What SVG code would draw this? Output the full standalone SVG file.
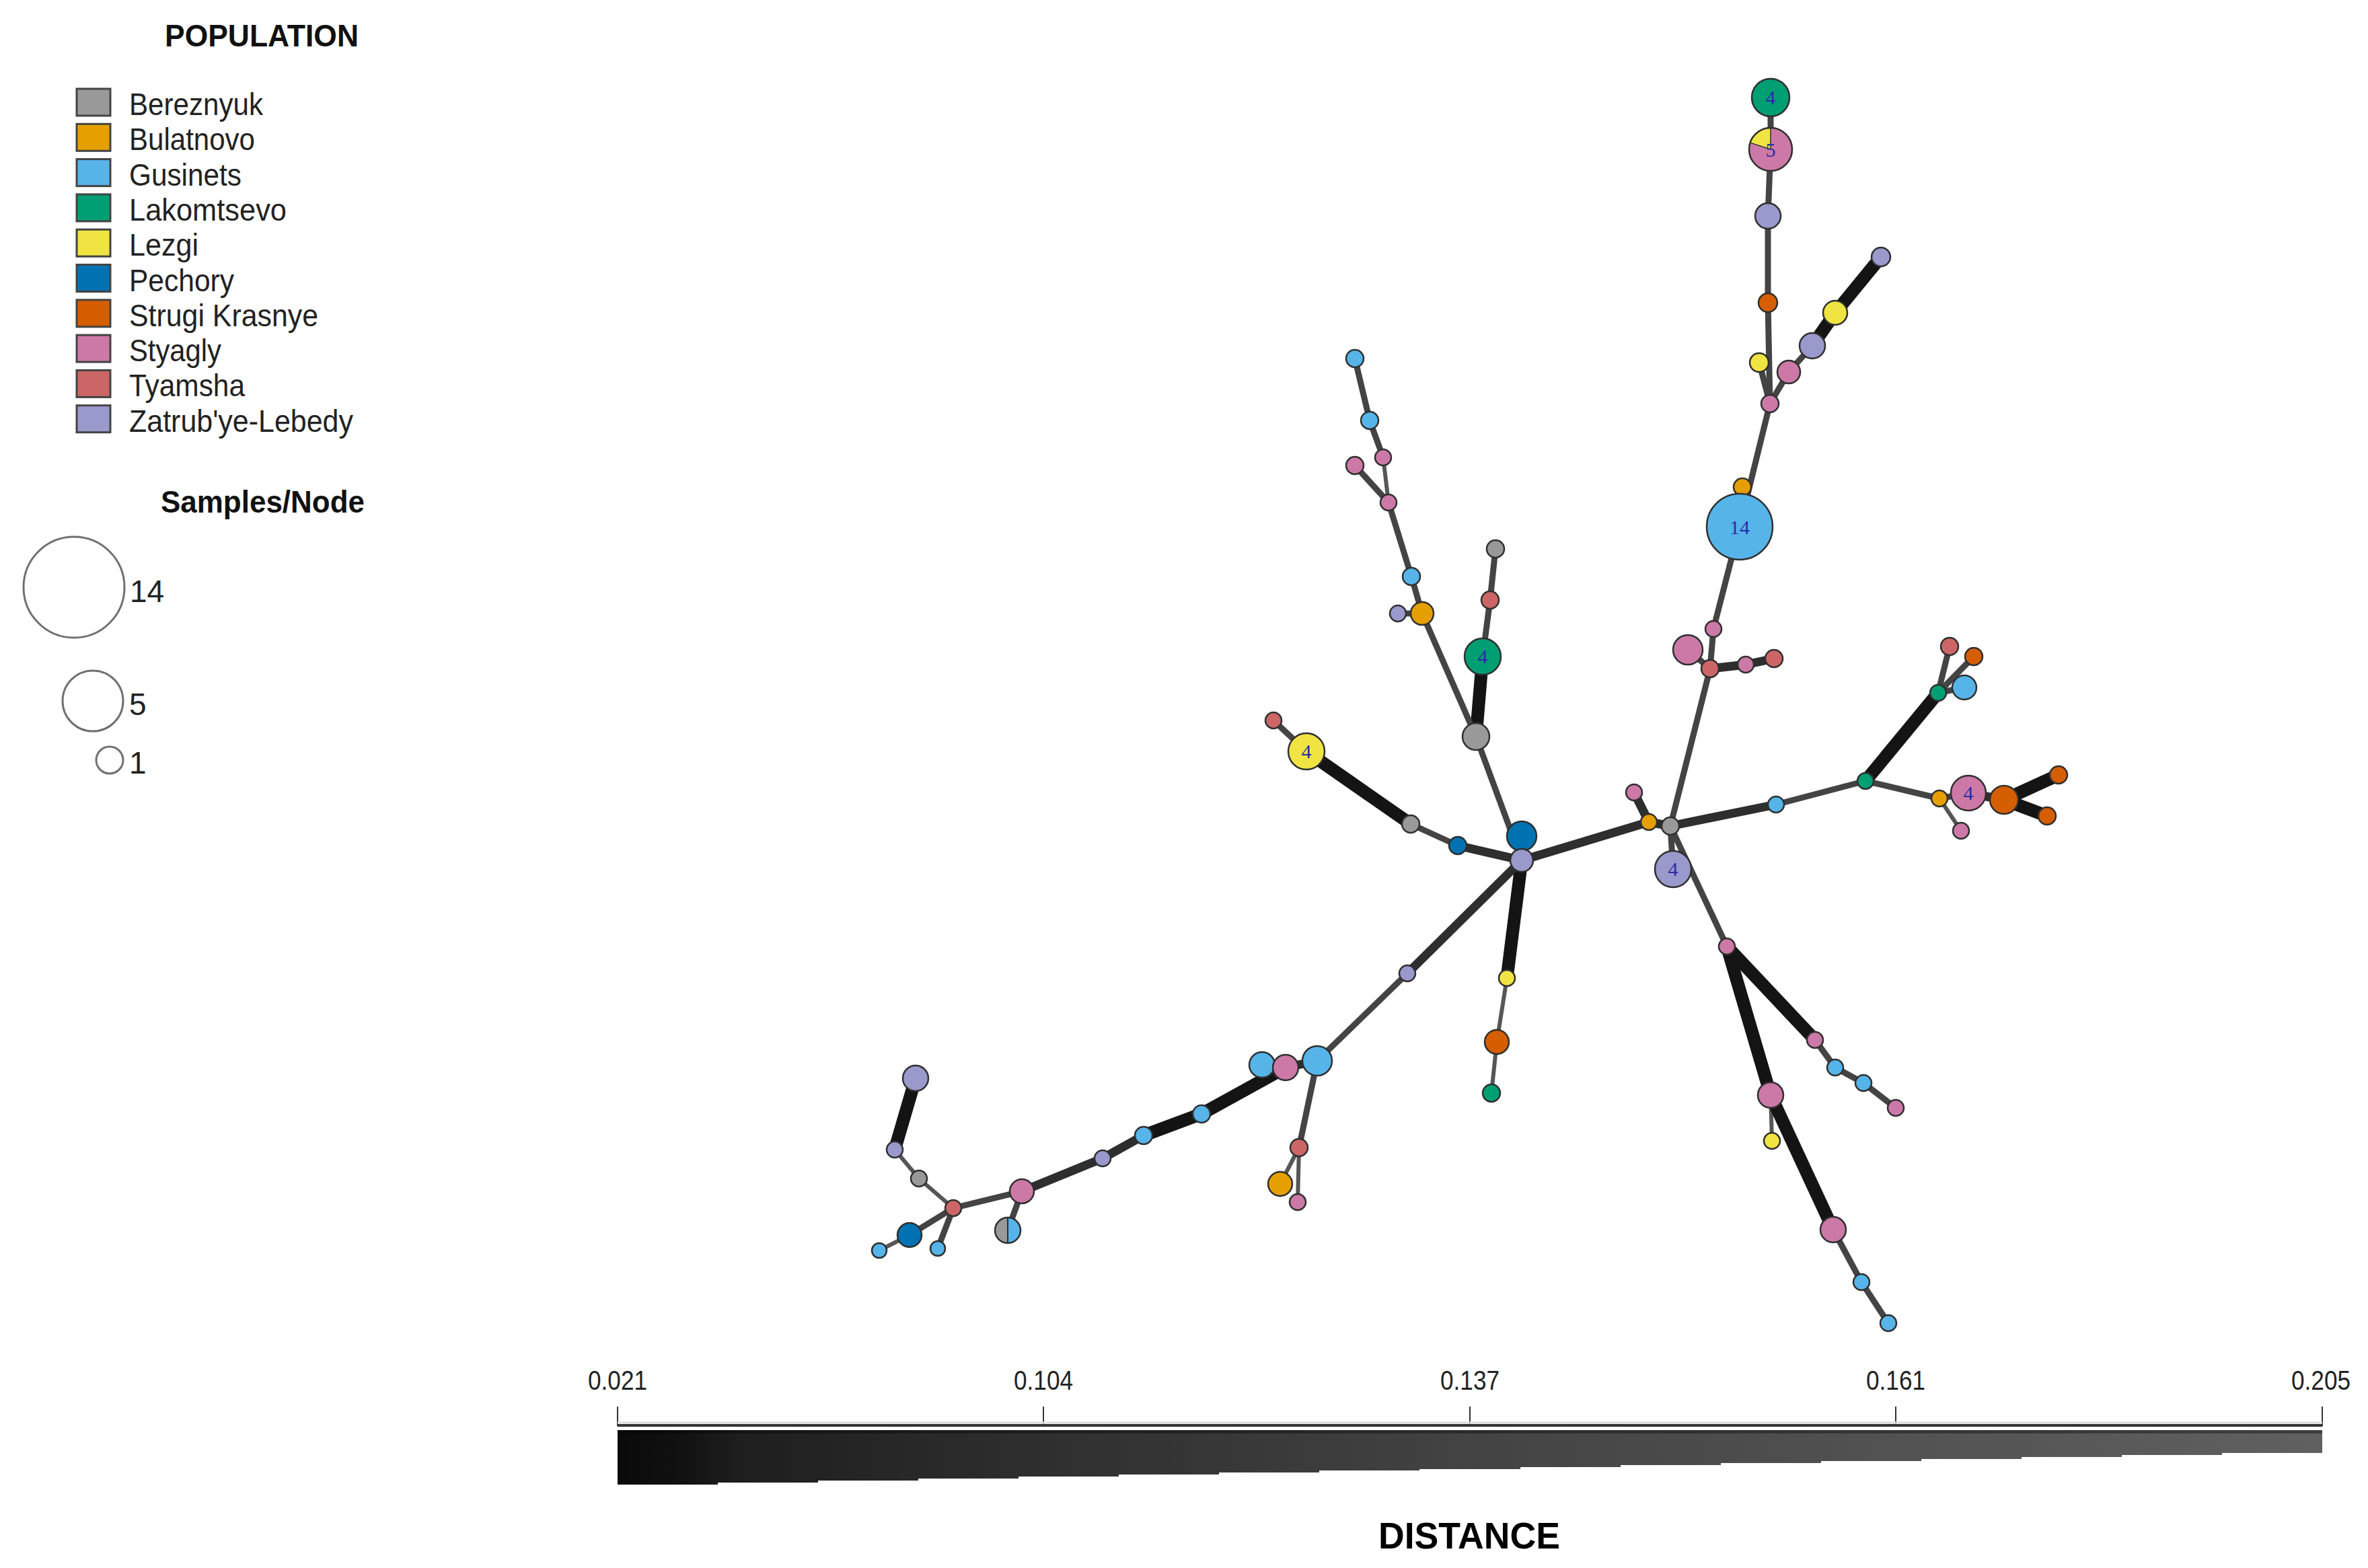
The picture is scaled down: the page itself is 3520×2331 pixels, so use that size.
<svg xmlns="http://www.w3.org/2000/svg" width="3520" height="2331" viewBox="0 0 3520 2331">
<style>
.bg{fill:#ffffff}
.ttl{font-family:"Liberation Sans",Arial,sans-serif;font-weight:bold;font-size:46px;fill:#111}
.lt{font-family:"Liberation Sans",Arial,sans-serif;font-size:46px;fill:#222}
.sq{stroke:#444;stroke-width:3}
.sz{fill:none;stroke:#707070;stroke-width:3}
.tk{font-family:"Liberation Sans",Arial,sans-serif;font-size:40px;fill:#222;text-anchor:middle}
.dist{font-family:"Liberation Sans",Arial,sans-serif;font-weight:bold;font-size:56px;fill:#000;text-anchor:middle}
.eA{stroke:#141414;stroke-width:19;fill:none}
.eB{stroke:#2e2e2e;stroke-width:13;fill:none}
.eC{stroke:#444444;stroke-width:9;fill:none}
.eD{stroke:#565656;stroke-width:6;fill:none}
.nd{stroke:#2f2f2f;stroke-width:2.5}
.BE{fill:#999999}.BU{fill:#E69F00}.GU{fill:#56B4E9}.LA{fill:#009E73}.LE{fill:#F0E442}
.PE{fill:#0072B2}.SK{fill:#D55E00}.ST{fill:#CC79A7}.TY{fill:#CC6666}.ZL{fill:#9999CC}
.lab{font-family:"Liberation Serif","Times New Roman",serif;font-size:30px;fill:#2a2aa8;text-anchor:middle}
</style>
<defs>
<linearGradient id="dg" gradientUnits="userSpaceOnUse" x1="918" y1="0" x2="3452" y2="0">
<stop offset="0" stop-color="#0a0a0a"/>
<stop offset="0.04" stop-color="#121212"/>
<stop offset="0.07" stop-color="#1e1e1e"/>
<stop offset="0.25" stop-color="#2f2f2f"/>
<stop offset="0.5" stop-color="#434343"/>
<stop offset="0.75" stop-color="#525252"/>
<stop offset="1" stop-color="#606060"/>
</linearGradient>
</defs>
<rect class="bg" x="0" y="0" width="3520" height="2331"/>

<g id="legend-population">
<text class="ttl" x="245" y="69" textLength="288" lengthAdjust="spacingAndGlyphs">POPULATION</text>
<rect class="sq BE" x="114" y="132" width="50" height="40"/><text class="lt" x="192" y="171" textLength="199" lengthAdjust="spacingAndGlyphs">Bereznyuk</text>
<rect class="sq BU" x="114" y="184.3" width="50" height="40"/><text class="lt" x="192" y="223.3" textLength="187" lengthAdjust="spacingAndGlyphs">Bulatnovo</text>
<rect class="sq GU" x="114" y="236.6" width="50" height="40"/><text class="lt" x="192" y="275.6" textLength="167" lengthAdjust="spacingAndGlyphs">Gusinets</text>
<rect class="sq LA" x="114" y="288.9" width="50" height="40"/><text class="lt" x="192" y="327.9" textLength="234" lengthAdjust="spacingAndGlyphs">Lakomtsevo</text>
<rect class="sq LE" x="114" y="341.2" width="50" height="40"/><text class="lt" x="192" y="380.2" textLength="103" lengthAdjust="spacingAndGlyphs">Lezgi</text>
<rect class="sq PE" x="114" y="393.5" width="50" height="40"/><text class="lt" x="192" y="432.5" textLength="156" lengthAdjust="spacingAndGlyphs">Pechory</text>
<rect class="sq SK" x="114" y="445.8" width="50" height="40"/><text class="lt" x="192" y="484.8" textLength="281" lengthAdjust="spacingAndGlyphs">Strugi Krasnye</text>
<rect class="sq ST" x="114" y="498.1" width="50" height="40"/><text class="lt" x="192" y="537.1" textLength="137" lengthAdjust="spacingAndGlyphs">Styagly</text>
<rect class="sq TY" x="114" y="550.4" width="50" height="40"/><text class="lt" x="192" y="589.4" textLength="172" lengthAdjust="spacingAndGlyphs">Tyamsha</text>
<rect class="sq ZL" x="114" y="602.7" width="50" height="40"/><text class="lt" x="192" y="641.7" textLength="333" lengthAdjust="spacingAndGlyphs">Zatrub'ye-Lebedy</text>
</g>

<g id="legend-size">
<text class="ttl" x="239" y="762" textLength="303" lengthAdjust="spacingAndGlyphs">Samples/Node</text>
<circle class="sz" cx="110" cy="873" r="75"/><text class="lt" x="193" y="895" font-size="44">14</text>
<circle class="sz" cx="138" cy="1042" r="45"/><text class="lt" x="192" y="1063" font-size="44">5</text>
<circle class="sz" cx="163" cy="1130" r="20"/><text class="lt" x="192" y="1150" font-size="44">1</text>
</g>

<g id="scale-bar">
<text class="tk" x="918" y="2066" textLength="88" lengthAdjust="spacingAndGlyphs">0.021</text>
<text class="tk" x="1551" y="2066" textLength="88" lengthAdjust="spacingAndGlyphs">0.104</text>
<text class="tk" x="2185" y="2066" textLength="88" lengthAdjust="spacingAndGlyphs">0.137</text>
<text class="tk" x="2818" y="2066" textLength="88" lengthAdjust="spacingAndGlyphs">0.161</text>
<text class="tk" x="3450" y="2066" textLength="88" lengthAdjust="spacingAndGlyphs">0.205</text>
<g stroke="#333" stroke-width="2">
<line x1="918" y1="2091" x2="918" y2="2120"/><line x1="1551" y1="2091" x2="1551" y2="2120"/>
<line x1="2185" y1="2091" x2="2185" y2="2120"/><line x1="2818" y1="2091" x2="2818" y2="2120"/>
<line x1="3452" y1="2091" x2="3452" y2="2120"/>
</g>
<line x1="918" y1="2115" x2="3452" y2="2115" stroke="#dddddd" stroke-width="3"/>
<line x1="918" y1="2119" x2="3452" y2="2119" stroke="#333" stroke-width="4"/>
<polygon fill="url(#dg)" points="918,2126 3452,2126 3452,2160 3303,2160 3303,2163 3154,2163 3154,2166 3005,2166 3005,2169 2856,2169 2856,2172 2707,2172 2707,2175 2558,2175 2558,2178 2409,2178 2409,2181 2260,2181 2260,2184 2110,2184 2110,2186 1961,2186 1961,2189 1812,2189 1812,2192 1663,2192 1663,2195 1514,2195 1514,2198 1365,2198 1365,2201 1216,2201 1216,2204 1067,2204 1067,2207 918,2207"/>
<rect x="918" y="2126" width="2534" height="5" fill="#000" opacity="0.35"/>
<text class="dist" x="2184" y="2302" textLength="270" lengthAdjust="spacingAndGlyphs">DISTANCE</text>
</g>

<g id="connectors" stroke-linecap="butt">
<line class="eC" x1="2632" y1="145" x2="2632" y2="222"/>
<line class="eC" x1="2632" y1="222" x2="2628" y2="321"/>
<line class="eC" x1="2628" y1="321" x2="2628" y2="450"/>
<line class="eC" x1="2628" y1="450" x2="2631" y2="600"/>
<line class="eC" x1="2615" y1="539" x2="2631" y2="600"/>
<line class="eC" x1="2631" y1="600" x2="2659" y2="553"/>
<line class="eC" x1="2659" y1="553" x2="2694" y2="514"/>
<line class="eA" x1="2694" y1="514" x2="2728" y2="465"/>
<line class="eA" x1="2728" y1="465" x2="2796" y2="382"/>
<line class="eC" x1="2631" y1="600" x2="2586" y2="783"/>
<line class="eC" x1="2590" y1="722" x2="2586" y2="783"/>
<line class="eC" x1="2586" y1="783" x2="2547" y2="935"/>
<line class="eC" x1="2547" y1="935" x2="2542" y2="994"/>
<line class="eC" x1="2542" y1="994" x2="2483" y2="1228"/>
<line class="eC" x1="2509" y1="966" x2="2542" y2="994"/>
<line class="eB" x1="2542" y1="994" x2="2595" y2="988"/>
<line class="eB" x1="2595" y1="988" x2="2637" y2="979"/>
<line class="eB" x1="2483" y1="1228" x2="2640" y2="1196"/>
<line class="eC" x1="2640" y1="1196" x2="2773" y2="1161"/>
<line class="eA" x1="2773" y1="1161" x2="2881" y2="1030"/>
<line class="eC" x1="2881" y1="1030" x2="2898" y2="961"/>
<line class="eC" x1="2881" y1="1030" x2="2934" y2="976"/>
<line class="eC" x1="2881" y1="1030" x2="2920" y2="1022"/>
<line class="eC" x1="2773" y1="1161" x2="2883" y2="1187"/>
<line class="eD" x1="2883" y1="1187" x2="2915" y2="1235"/>
<line class="eC" x1="2883" y1="1187" x2="2926" y2="1179"/>
<line class="eB" x1="2926" y1="1179" x2="2979" y2="1189"/>
<line class="eA" x1="2979" y1="1189" x2="3060" y2="1152"/>
<line class="eA" x1="2979" y1="1189" x2="3043" y2="1213"/>
<line class="eB" x1="2262" y1="1279" x2="2451" y2="1222"/>
<line class="eB" x1="2451" y1="1222" x2="2483" y2="1228"/>
<line class="eB" x1="2429" y1="1178" x2="2451" y2="1222"/>
<line class="eC" x1="2483" y1="1228" x2="2487" y2="1292"/>
<line class="eC" x1="2483" y1="1228" x2="2567" y2="1407"/>
<line class="eA" x1="2567" y1="1407" x2="2698" y2="1546"/>
<line class="eC" x1="2698" y1="1546" x2="2728" y2="1587"/>
<line class="eC" x1="2728" y1="1587" x2="2770" y2="1610"/>
<line class="eC" x1="2770" y1="1610" x2="2818" y2="1647"/>
<line class="eA" x1="2567" y1="1407" x2="2632" y2="1628"/>
<line class="eD" x1="2632" y1="1628" x2="2634" y2="1696"/>
<line class="eA" x1="2632" y1="1628" x2="2725" y2="1828"/>
<line class="eC" x1="2725" y1="1828" x2="2767" y2="1906"/>
<line class="eC" x1="2767" y1="1906" x2="2807" y2="1967"/>
<line class="eB" x1="2262" y1="1279" x2="2262" y2="1243"/>
<line class="eB" x1="2262" y1="1279" x2="2167" y2="1257"/>
<line class="eC" x1="2167" y1="1257" x2="2097" y2="1225"/>
<line class="eA" x1="2097" y1="1225" x2="1942" y2="1117"/>
<line class="eC" x1="1942" y1="1117" x2="1893" y2="1071"/>
<line class="eC" x1="2262" y1="1279" x2="2194" y2="1095"/>
<line class="eA" x1="2194" y1="1095" x2="2204" y2="976"/>
<line class="eC" x1="2204" y1="976" x2="2215" y2="892"/>
<line class="eC" x1="2215" y1="892" x2="2223" y2="816"/>
<line class="eC" x1="2194" y1="1095" x2="2114" y2="912"/>
<line class="eC" x1="2114" y1="912" x2="2078" y2="912"/>
<line class="eC" x1="2114" y1="912" x2="2098" y2="857"/>
<line class="eC" x1="2098" y1="857" x2="2064" y2="747"/>
<line class="eC" x1="2064" y1="747" x2="2014" y2="692"/>
<line class="eD" x1="2064" y1="747" x2="2056" y2="680"/>
<line class="eC" x1="2056" y1="680" x2="2036" y2="625"/>
<line class="eC" x1="2036" y1="625" x2="2014" y2="533"/>
<line class="eA" x1="2262" y1="1279" x2="2240" y2="1454"/>
<line class="eD" x1="2240" y1="1454" x2="2225" y2="1549"/>
<line class="eD" x1="2225" y1="1549" x2="2217" y2="1625"/>
<line class="eB" x1="2262" y1="1279" x2="2092" y2="1447"/>
<line class="eC" x1="2092" y1="1447" x2="1958" y2="1577"/>
<line class="eC" x1="1958" y1="1577" x2="1931" y2="1706"/>
<line class="eD" x1="1931" y1="1706" x2="1903" y2="1760"/>
<line class="eD" x1="1931" y1="1706" x2="1929" y2="1787"/>
<line class="eB" x1="1958" y1="1577" x2="1911" y2="1587"/>
<line class="eC" x1="1911" y1="1587" x2="1876" y2="1583"/>
<line class="eA" x1="1911" y1="1587" x2="1786" y2="1656"/>
<line class="eA" x1="1786" y1="1656" x2="1700" y2="1688"/>
<line class="eB" x1="1700" y1="1688" x2="1639" y2="1722"/>
<line class="eB" x1="1639" y1="1722" x2="1519" y2="1771"/>
<line class="eC" x1="1519" y1="1771" x2="1417" y2="1796"/>
<line class="eD" x1="1417" y1="1796" x2="1366" y2="1752"/>
<line class="eD" x1="1366" y1="1752" x2="1330" y2="1709"/>
<line class="eA" x1="1330" y1="1709" x2="1361" y2="1603"/>
<line class="eC" x1="1417" y1="1796" x2="1352" y2="1836"/>
<line class="eD" x1="1352" y1="1836" x2="1307" y2="1859"/>
<line class="eC" x1="1417" y1="1796" x2="1394" y2="1856"/>
<line class="eC" x1="1519" y1="1771" x2="1498" y2="1829"/>
</g>

<g id="nodes">
<g id="n1"><circle class="nd LA" cx="2632" cy="145" r="28"/><text class="lab" x="2632" y="155">4</text></g>
<g id="n2"><circle class="ST" cx="2632" cy="222" r="32"/><path class="LE" d="M2632,222 L2632,190 A32,32 0 0 0 2601.6,212.1 Z" stroke="#2f2f2f" stroke-width="1.5"/><circle class="nd" cx="2632" cy="222" r="32" fill="none"/><text class="lab" x="2632" y="233">5</text></g>
<g id="n3"><circle class="nd ZL" cx="2628" cy="321" r="19"/></g>
<g id="n4"><circle class="nd SK" cx="2628" cy="450" r="14"/></g>
<g id="n5"><circle class="nd LE" cx="2615" cy="539" r="14"/></g>
<g id="n6"><circle class="nd ST" cx="2631" cy="600" r="13"/></g>
<g id="n7"><circle class="nd ST" cx="2659" cy="553" r="17"/></g>
<g id="n8"><circle class="nd ZL" cx="2694" cy="514" r="19"/></g>
<g id="n9"><circle class="nd LE" cx="2728" cy="465" r="18"/></g>
<g id="n10"><circle class="nd ZL" cx="2796" cy="382" r="14"/></g>
<g id="n11"><circle class="nd BU" cx="2590" cy="724" r="13"/></g>
<g id="n12"><circle class="nd GU" cx="2586" cy="783" r="49"/><text class="lab" x="2586" y="794" font-size="32" fill="#1f3da0">14</text></g>
<g id="n13"><circle class="nd ST" cx="2547" cy="935" r="12"/></g>
<g id="n14"><circle class="nd ST" cx="2509" cy="966" r="22"/></g>
<g id="n15"><circle class="nd TY" cx="2542" cy="994" r="13"/></g>
<g id="n16"><circle class="nd ST" cx="2595" cy="988" r="12"/></g>
<g id="n17"><circle class="nd TY" cx="2637" cy="979" r="13"/></g>
<g id="n18"><circle class="nd BE" cx="2483" cy="1228" r="13"/></g>
<g id="n19"><circle class="nd BU" cx="2451" cy="1222" r="12"/></g>
<g id="n20"><circle class="nd ST" cx="2429" cy="1178" r="12"/></g>
<g id="n21"><circle class="nd ZL" cx="2487" cy="1292" r="27"/><text class="lab" x="2487" y="1302">4</text></g>
<g id="n22"><circle class="nd GU" cx="2640" cy="1196" r="12"/></g>
<g id="n23"><circle class="nd LA" cx="2773" cy="1161" r="12"/></g>
<g id="n24"><circle class="nd LA" cx="2881" cy="1030" r="12"/></g>
<g id="n25"><circle class="nd TY" cx="2898" cy="961" r="13"/></g>
<g id="n26"><circle class="nd SK" cx="2934" cy="976" r="13"/></g>
<g id="n27"><circle class="nd GU" cx="2920" cy="1022" r="18"/></g>
<g id="n28"><circle class="nd BU" cx="2883" cy="1187" r="12"/></g>
<g id="n29"><circle class="nd ST" cx="2926" cy="1179" r="26"/><text class="lab" x="2926" y="1189">4</text></g>
<g id="n30"><circle class="nd SK" cx="2979" cy="1189" r="21"/></g>
<g id="n31"><circle class="nd SK" cx="3060" cy="1152" r="13"/></g>
<g id="n32"><circle class="nd SK" cx="3043" cy="1213" r="13"/></g>
<g id="n33"><circle class="nd ST" cx="2915" cy="1235" r="12"/></g>
<g id="n34"><circle class="nd ST" cx="2567" cy="1407" r="12"/></g>
<g id="n35"><circle class="nd ST" cx="2698" cy="1546" r="12"/></g>
<g id="n36"><circle class="nd GU" cx="2728" cy="1587" r="12"/></g>
<g id="n37"><circle class="nd GU" cx="2770" cy="1610" r="12"/></g>
<g id="n38"><circle class="nd ST" cx="2818" cy="1647" r="12"/></g>
<g id="n39"><circle class="nd ST" cx="2632" cy="1628" r="19"/></g>
<g id="n40"><circle class="nd LE" cx="2634" cy="1696" r="12"/></g>
<g id="n41"><circle class="nd ST" cx="2725" cy="1828" r="19"/></g>
<g id="n42"><circle class="nd GU" cx="2767" cy="1906" r="12"/></g>
<g id="n43"><circle class="nd GU" cx="2807" cy="1967" r="12"/></g>
<g id="n45"><circle class="nd PE" cx="2262" cy="1243" r="22"/></g>
<g id="n44"><circle class="nd ZL" cx="2262" cy="1279" r="17"/></g>
<g id="n46"><circle class="nd PE" cx="2167" cy="1257" r="13"/></g>
<g id="n47"><circle class="nd BE" cx="2097" cy="1225" r="13"/></g>
<g id="n48"><circle class="nd LE" cx="1942" cy="1117" r="27"/><text class="lab" x="1942" y="1127" fill="#6a4fa0">4</text></g>
<g id="n49"><circle class="nd TY" cx="1893" cy="1071" r="12"/></g>
<g id="n50"><circle class="nd BE" cx="2194" cy="1095" r="20"/></g>
<g id="n51"><circle class="nd LA" cx="2204" cy="976" r="27"/><text class="lab" x="2204" y="986">4</text></g>
<g id="n52"><circle class="nd TY" cx="2215" cy="892" r="13"/></g>
<g id="n53"><circle class="nd BE" cx="2223" cy="816" r="13"/></g>
<g id="n54"><circle class="nd BU" cx="2114" cy="912" r="17"/></g>
<g id="n55"><circle class="nd ZL" cx="2078" cy="912" r="12"/></g>
<g id="n56"><circle class="nd GU" cx="2098" cy="857" r="13"/></g>
<g id="n57"><circle class="nd ST" cx="2064" cy="747" r="12"/></g>
<g id="n58"><circle class="nd ST" cx="2014" cy="692" r="13"/></g>
<g id="n59"><circle class="nd ST" cx="2056" cy="680" r="12"/></g>
<g id="n60"><circle class="nd GU" cx="2036" cy="625" r="13"/></g>
<g id="n61"><circle class="nd GU" cx="2014" cy="533" r="13"/></g>
<g id="n62"><circle class="nd LE" cx="2240" cy="1454" r="12"/></g>
<g id="n63"><circle class="nd SK" cx="2225" cy="1549" r="18"/></g>
<g id="n64"><circle class="nd LA" cx="2217" cy="1625" r="13"/></g>
<g id="n65"><circle class="nd ZL" cx="2092" cy="1447" r="12"/></g>
<g id="n68"><circle class="nd GU" cx="1876" cy="1583" r="19"/></g>
<g id="n67"><circle class="nd ST" cx="1911" cy="1587" r="19"/></g>
<g id="n66"><circle class="nd GU" cx="1958" cy="1577" r="22"/></g>
<g id="n69"><circle class="nd TY" cx="1931" cy="1706" r="13"/></g>
<g id="n70"><circle class="nd BU" cx="1903" cy="1760" r="18"/></g>
<g id="n71"><circle class="nd ST" cx="1929" cy="1787" r="12"/></g>
<g id="n72"><circle class="nd GU" cx="1786" cy="1656" r="13"/></g>
<g id="n73"><circle class="nd GU" cx="1700" cy="1688" r="13"/></g>
<g id="n74"><circle class="nd ZL" cx="1639" cy="1722" r="12"/></g>
<g id="n75"><circle class="nd ST" cx="1519" cy="1771" r="18"/></g>
<g id="n76"><circle class="nd TY" cx="1417" cy="1796" r="12"/></g>
<g id="n77"><circle class="nd BE" cx="1366" cy="1752" r="12"/></g>
<g id="n78"><circle class="nd ZL" cx="1330" cy="1709" r="12"/></g>
<g id="n79"><circle class="nd ZL" cx="1361" cy="1603" r="19"/></g>
<g id="n80"><circle class="nd PE" cx="1352" cy="1836" r="18"/></g>
<g id="n81"><circle class="nd GU" cx="1307" cy="1859" r="11"/></g>
<g id="n82"><circle class="nd GU" cx="1394" cy="1856" r="11"/></g>
<g id="n83"><path class="BE" d="M1498,1810 A19,19 0 0 0 1498,1848 Z"/><path class="GU" d="M1498,1810 A19,19 0 0 1 1498,1848 Z"/><line x1="1498" y1="1810" x2="1498" y2="1848" stroke="#2f2f2f" stroke-width="2"/><circle class="nd" cx="1498" cy="1829" r="19" fill="none"/></g>
</g>
</svg>
